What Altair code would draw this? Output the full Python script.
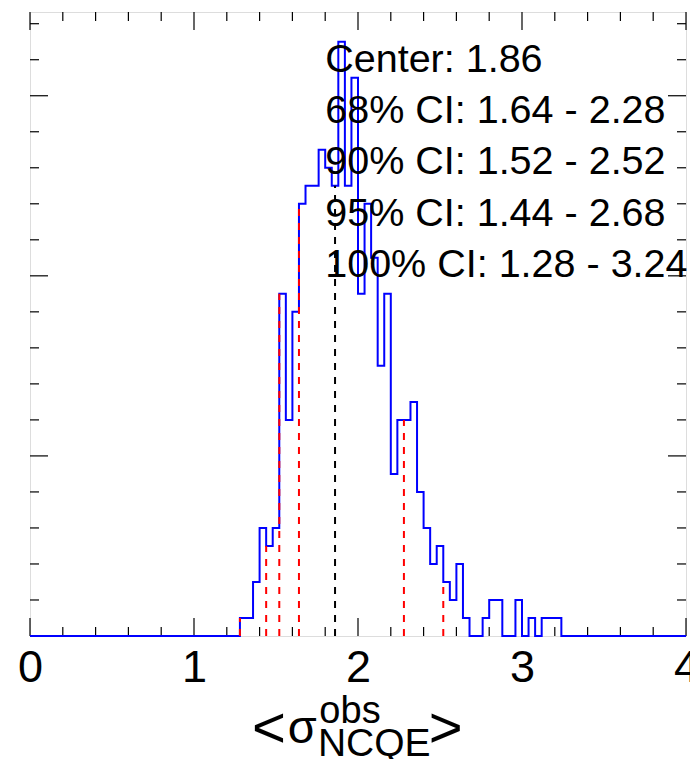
import altair as alt
import pandas as pd
import numpy as np

# ---------------- data ----------------
x_lo, x_hi = 0.0, 4.0
bin_width = 0.04
first_filled_bin = 32          # bin starting at 1.28
filled_counts = [1, 1, 3, 6, 5, 6, 19, 12, 18, 24,
                 25, 25, 27, 26, 25, 33, 25, 31, 19, 24,
                 21, 15, 19, 9, 12, 12, 13, 8, 6, 4,
                 5, 3, 2, 4, 1, 0, 0, 1, 2, 2,
                 0, 0, 2, 0, 1, 0, 1, 1, 1]
n_bins = 100

center = 1.86
ci_levels = ["68%", "90%", "95%", "100%"]
ci_low = [1.64, 1.52, 1.44, 1.28]
ci_high = [2.28, 2.52, 2.68, 3.24]

x_tick_labels = [0, 1, 2, 3, 4]

# ---------------- derived tables ----------------
counts = [0] * first_filled_bin + filled_counts
counts = counts + [0] * (n_bins - len(counts))
edges = [round(i * bin_width, 4) for i in range(n_bins + 1)]
hist_df = pd.DataFrame({"x": edges, "c": counts + [counts[-1]]})

def content_at(v):
    i = int(round(v / bin_width))
    return counts[i] if 0 <= i < n_bins else 0

line_x = [center] + ci_low + ci_high
line_col = ["black"] + ["red"] * (len(ci_low) + len(ci_high))
lines_df = pd.DataFrame({
    "x": line_x,
    "base": [0] * len(line_x),
    "h": [content_at(v) for v in line_x],
    "col": line_col,
})

txt = "Center: {:.2f}".format(center)
for lv, lo, hi in zip(ci_levels, ci_low, ci_high):
    txt += "\n{} CI: {:.2f} - {:.2f}".format(lv, lo, hi)
text_df = pd.DataFrame({"t": [txt]})

y_max = max(counts) * 1.05

W, H = 656, 624
xscale = alt.Scale(domain=[x_lo, x_hi], nice=False, zero=False)
yscale = alt.Scale(domain=[0, y_max], nice=False, zero=True)
xaxis = alt.Axis(values=x_tick_labels, format="d", labelFontSize=45,
                 labelFont="Liberation Sans", labelColor="black",
                 ticks=False, tickSize=0, domain=False, grid=False,
                 labelPadding=45, labelBaseline="alphabetic",
                 labelFlush=False, labelOverlap=False, title=None)

def X(f):
    return alt.X(f, type="quantitative", scale=xscale, axis=xaxis)

def Y(f):
    return alt.Y(f, type="quantitative", scale=yscale, axis=None)

# ---------------- tick marks (inward, on all four sides) ----------------
xt_major = [float(v) for v in np.arange(0, 4.001, 1.0)]
xt_minor = [round(v, 2) for v in np.arange(0, 4.001, 0.2) if abs(v - round(v)) > 1e-6]
yt_major = [float(v) for v in np.arange(0, y_max, 10)]
yt_minor = [float(v) for v in np.arange(0, y_max, 2) if v % 10 != 0]
LMAJ, LMIN = 18, 9

layers = []
for vals, ln in [(xt_major, LMAJ), (xt_minor, LMIN)]:
    d = pd.DataFrame({"t": vals})
    layers.append(alt.Chart(d).mark_rule(color="black", strokeWidth=1.2).encode(
        x=X("t"), y=alt.value(H), y2=alt.value(H - ln)))
    layers.append(alt.Chart(d).mark_rule(color="black", strokeWidth=1.2).encode(
        x=X("t"), y=alt.value(0), y2=alt.value(ln)))
for vals, ln in [(yt_major, LMAJ), (yt_minor, LMIN)]:
    d = pd.DataFrame({"t": vals})
    layers.append(alt.Chart(d).mark_rule(color="black", strokeWidth=1.2).encode(
        y=Y("t"), x=alt.value(0), x2=alt.value(ln)))
    layers.append(alt.Chart(d).mark_rule(color="black", strokeWidth=1.2).encode(
        y=Y("t"), x=alt.value(W), x2=alt.value(W - ln)))

# ---------------- histogram ----------------
hist = alt.Chart(hist_df).mark_line(interpolate="step-after", color="#0000ff",
                                    strokeWidth=2).encode(x=X("x"), y=Y("c"))
layers.append(hist)

# ---------------- dashed interval lines ----------------
dashed = alt.Chart(lines_df).mark_rule(strokeDash=[7, 7], strokeWidth=2).encode(
    x=X("x"), y=Y("base"), y2=alt.Y2("h"),
    color=alt.Color("col:N", scale=None))
layers.append(dashed)

# ---------------- annotation ----------------
ann = alt.Chart(text_df).mark_text(
    align="left", baseline="alphabetic", fontSize=39.5, font="Liberation Sans",
    color="black", lineBreak="\n", lineHeight=51.25).encode(
    x=alt.datum(1.8), y=alt.datum(31.33), text="t:N")
layers.append(ann)

# ---------------- x-axis title  <sigma^obs_NCQE> ----------------
title_parts = [
    ("<", 58, -89, 735),
    ("\u03c3", 47, -55.7, 730.5),
    ("obs", 38, -8, 711),
    ("NCQE", 39, 16.3, 743.5),
    (">", 58, 87.8, 735),
]
one = pd.DataFrame({"a": [0]})
for s, fs, dx, ypx in title_parts:
    layers.append(alt.Chart(one).mark_text(
        text=s, fontSize=fs, font="Liberation Sans", color="black", align="center",
        baseline="alphabetic", dx=dx).encode(x=alt.datum(2.0), y=alt.value(ypx)))

chart = alt.layer(*layers).properties(
    width=W, height=H,
    autosize=alt.AutoSizeParams(type="none"),
    padding={"left": 22, "top": 4, "right": 4, "bottom": 123},
).configure_view(stroke="black", strokeWidth=2.5).configure(background="white")

chart.save("out.html", embed_options={"renderer": "svg", "actions": False})
